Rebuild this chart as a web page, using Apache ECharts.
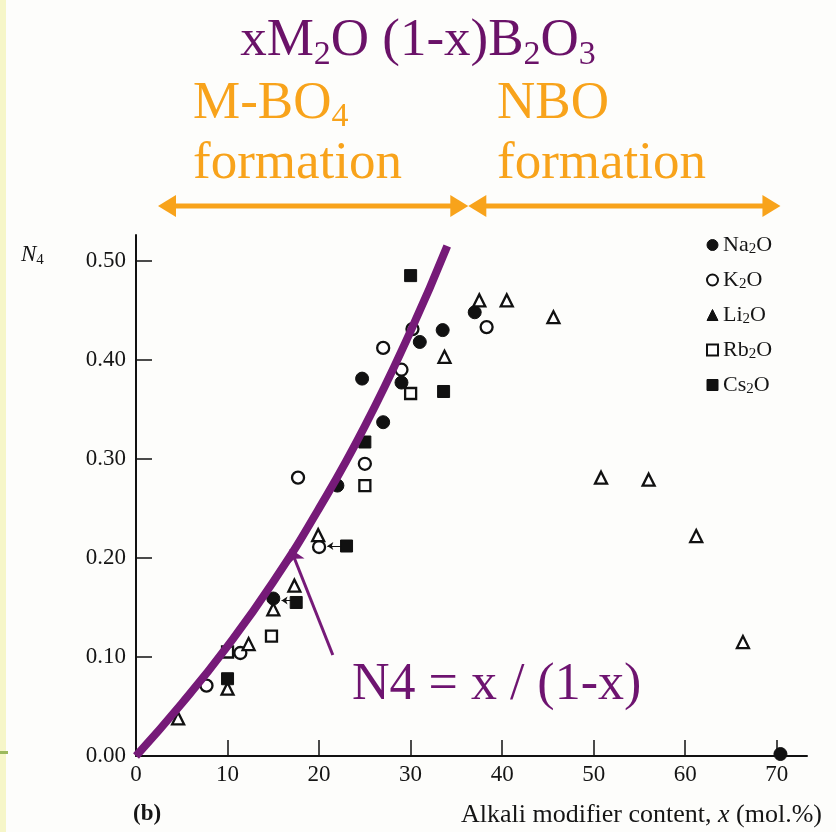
<!DOCTYPE html>
<html>
<head>
<meta charset="utf-8">
<script src="https://cdn.jsdelivr.net/npm/echarts@6/dist/echarts.min.js"></script>
<style>
  html, body { margin: 0; padding: 0; background: #fdfdfb; }
  #chart { width: 836px; height: 832px; }
</style>
</head>
<body>
<div id="chart"></div>
<script>
// Fraction of four-coordinated boron, N4, in alkali borate glasses xM2O (1-x)B2O3
const na2oData = [[15, 0.159], [22, 0.273], [24.7, 0.381], [27, 0.337], [29, 0.377], [31, 0.418], [33.5, 0.43], [37, 0.448], [70.4, 0.002]];
const k2oData = [[7.7, 0.071], [11.4, 0.104], [17.7, 0.281], [20, 0.211], [25, 0.295], [27, 0.412], [29, 0.39], [30.2, 0.431], [38.3, 0.433]];
const li2oData = [[4.6, 0.038], [10, 0.068], [12.3, 0.113], [15, 0.148], [17.3, 0.172], [19.9, 0.223], [33.7, 0.403], [37.5, 0.46], [40.5, 0.46], [45.6, 0.443], [50.8, 0.281], [56, 0.279], [61.2, 0.222], [66.3, 0.115]];
const rb2oData = [[10, 0.105], [14.8, 0.121], [25, 0.273], [30, 0.366]];
const cs2oData = [[10, 0.078], [17.5, 0.155], [23, 0.212], [25, 0.317], [30, 0.485], [33.6, 0.368]];

// Model curve N4 = x / (1-x), tabulated
const modelX = [0, 5, 10, 15, 20, 25, 30, 34.0];
const modelN4 = [0, 0.053, 0.111, 0.176, 0.25, 0.333, 0.429, 0.515];

const xTicks = [0, 10, 20, 30, 40, 50, 60, 70];
const yTicks = [0, 0.1, 0.2, 0.3, 0.4, 0.5];

// Region boundaries (mol.%) for the two formation ranges
const regionEdges = [2.4, 36.3, 70.4];

const SERIF = '"Liberation Serif", "DejaVu Serif", serif';
const PURPLE = '#761a78';
const ORANGE = '#f8a31b';
const INK = '#111';

const legendRich = {
  'Na2O': '{t|Na}{s|2}{t|O}',
  'K2O': '{t|K}{s|2}{t|O}',
  'Li2O': '{t|Li}{s|2}{t|O}',
  'Rb2O': '{t|Rb}{s|2}{t|O}',
  'Cs2O': '{t|Cs}{s|2}{t|O}'
};

const filled = { color: INK, borderColor: INK, borderWidth: 1, opacity: 1 };
const open = { color: '#fff', borderColor: INK, borderWidth: 2.3, opacity: 1 };

function pairs(xs, ys) { return xs.map((x, i) => [x, ys[i]]); }

const chart = echarts.init(document.getElementById('chart'));

const option = {
  backgroundColor: '#fdfdfb',
  animation: false,
  grid: { left: 136, right: 29, top: 235, bottom: 76 },
  xAxis: {
    type: 'value', min: 0, max: 73.3,
    axisLine: { lineStyle: { color: INK, width: 2 } },
    axisTick: { inside: true, length: 16, lineStyle: { color: INK, width: 1.5 }, customValues: xTicks.slice(1) },
    axisLabel: { customValues: xTicks, margin: 7, color: '#151515', fontFamily: SERIF, fontSize: 23 },
    splitLine: { show: false }
  },
  yAxis: {
    type: 'value', min: 0, max: 0.526,
    axisLine: { lineStyle: { color: INK, width: 2 } },
    axisTick: { inside: true, length: 16, lineStyle: { color: INK, width: 1.5 }, customValues: yTicks.slice(1) },
    axisLabel: { customValues: yTicks, margin: 10, color: '#151515', fontFamily: SERIF, fontSize: 23,
      formatter: v => v.toFixed(2) },
    splitLine: { show: false }
  },
  legend: {
    orient: 'vertical', left: 701, top: 229,
    itemWidth: 11, itemHeight: 11, itemGap: 12,
    data: [
      { name: 'Na2O', itemStyle: filled },
      { name: 'K2O', itemStyle: { color: '#fff', borderColor: INK, borderWidth: 2 } },
      { name: 'Li2O', itemStyle: filled },
      { name: 'Rb2O', itemStyle: { color: '#fff', borderColor: INK, borderWidth: 2 } },
      { name: 'Cs2O', itemStyle: filled }
    ],
    formatter: name => legendRich[name],
    textStyle: {
      color: '#151515', fontFamily: SERIF, fontSize: 22,
      rich: {
        t: { fontFamily: SERIF, fontSize: 22, lineHeight: 24, color: '#151515' },
        s: { fontFamily: SERIF, fontSize: 15, lineHeight: 15, verticalAlign: 'bottom', color: '#151515' }
      }
    }
  },
  series: [
    { name: 'Na2O', type: 'scatter', symbol: 'circle', symbolSize: 13, z: 2, itemStyle: filled, data: na2oData },
    { name: 'K2O', type: 'scatter', symbol: 'circle', symbolSize: 12, z: 2, itemStyle: open, data: k2oData },
    { name: 'Li2O', type: 'scatter', symbol: 'triangle', symbolSize: 12, z: 2, itemStyle: open, data: li2oData },
    { name: 'Rb2O', type: 'scatter', symbol: 'rect', symbolSize: 11, z: 2, itemStyle: open, data: rb2oData },
    {
      name: 'Cs2O', type: 'scatter', symbol: 'rect', symbolSize: 12, z: 2, itemStyle: filled, data: cs2oData,
      markLine: {
        silent: true, symbol: ['none', 'arrow'], symbolSize: 6,
        label: { show: false },
        lineStyle: { color: INK, width: 1, type: 'solid', opacity: 1 },
        data: [
          [{ coord: [17.0, 0.157] }, { coord: [15.9, 0.157] }],
          [{ coord: [22.4, 0.212] }, { coord: [20.9, 0.212] }]
        ]
      }
    },
    {
      name: 'model', type: 'line', smooth: true, showSymbol: false, z: 3,
      lineStyle: { color: PURPLE, width: 8 },
      data: pairs(modelX, modelN4),
      markLine: {
        silent: true, symbol: ['none', 'arrow'], symbolSize: 14,
        label: { show: false },
        lineStyle: { color: PURPLE, width: 3, type: 'solid', opacity: 1 },
        data: [[{ coord: [21.5, 0.102] }, { coord: [16.9, 0.209] }]]
      }
    }
  ],
  graphic: [
    // page edge strip
    { type: 'rect', left: 0, top: 0, shape: { width: 6, height: 832 }, style: { fill: '#f6f6c8' }, silent: true },
    { type: 'rect', left: 0, top: 751, shape: { width: 8, height: 3 }, style: { fill: '#9bb95c' }, silent: true },
    // heading
    {
      type: 'text', left: 'center', top: 15,
      style: {
        text: '{a|xM}{s|2}{a|O (1-x)B}{s|2}{a|O}{s|3}',
        rich: {
          a: { fontFamily: SERIF, fontSize: 53, lineHeight: 62, fill: '#6a1268' },
          s: { fontFamily: SERIF, fontSize: 34, lineHeight: 34, verticalAlign: 'bottom', fill: '#6a1268' }
        }
      }
    },
    {
      type: 'text', left: 193, top: 78,
      style: {
        text: '{a|M-BO}{s|4}\n{a|formation}',
        rich: {
          a: { fontFamily: SERIF, fontSize: 53, lineHeight: 60, fill: ORANGE },
          s: { fontFamily: SERIF, fontSize: 34, lineHeight: 34, verticalAlign: 'bottom', fill: ORANGE }
        }
      }
    },
    {
      type: 'text', left: 497, top: 78,
      style: {
        text: '{a|NBO}\n{a|formation}',
        rich: { a: { fontFamily: SERIF, fontSize: 53, lineHeight: 60, fill: ORANGE } }
      }
    },
    // annotation for the model curve
    {
      type: 'text', left: 352, top: 659,
      style: { text: 'N4 = x / (1-x)', fontFamily: SERIF, fontSize: 52, fill: '#6e1470' }
    },
    // axis titles
    {
      type: 'text', left: 21, top: 243,
      style: {
        text: '{n|N}{s|4}',
        rich: {
          n: { fontFamily: SERIF, fontSize: 23, fontStyle: 'italic', lineHeight: 26, fill: '#151515' },
          s: { fontFamily: SERIF, fontSize: 15, lineHeight: 15, verticalAlign: 'bottom', fill: '#151515' }
        }
      }
    },
    {
      type: 'text', right: 14, top: 802,
      style: {
        text: '{t|Alkali modifier content, }{i|x}{t| (mol.%)}',
        rich: {
          t: { fontFamily: SERIF, fontSize: 26, fill: '#151515' },
          i: { fontFamily: SERIF, fontSize: 26, fontStyle: 'italic', fill: '#151515' }
        }
      }
    },
    {
      type: 'text', left: 133, top: 803,
      style: { text: '(b)', fontFamily: SERIF, fontSize: 23, fontWeight: 'bold', fill: '#151515' }
    }
  ]
};

chart.setOption(option);

// Double-headed range arrows above the plot, placed in data units along x
function rangeArrow(x0, x1, y) {
  const a = chart.convertToPixel({ xAxisIndex: 0 }, x0);
  const b = chart.convertToPixel({ xAxisIndex: 0 }, x1);
  const hl = 18, hh = 11;
  return [
    { type: 'line', shape: { x1: a + hl - 2, y1: y, x2: b - hl + 2, y2: y }, style: { stroke: ORANGE, lineWidth: 5 }, silent: true },
    { type: 'polygon', shape: { points: [[a, y], [a + hl, y - hh], [a + hl, y + hh]] }, style: { fill: ORANGE }, silent: true },
    { type: 'polygon', shape: { points: [[b, y], [b - hl, y - hh], [b - hl, y + hh]] }, style: { fill: ORANGE }, silent: true }
  ];
}

const arrows = [].concat(
  rangeArrow(regionEdges[0], regionEdges[1], 206),
  rangeArrow(regionEdges[1], regionEdges[2], 206)
);

chart.setOption({ graphic: option.graphic.concat(arrows) });
</script>
</body>
</html>
